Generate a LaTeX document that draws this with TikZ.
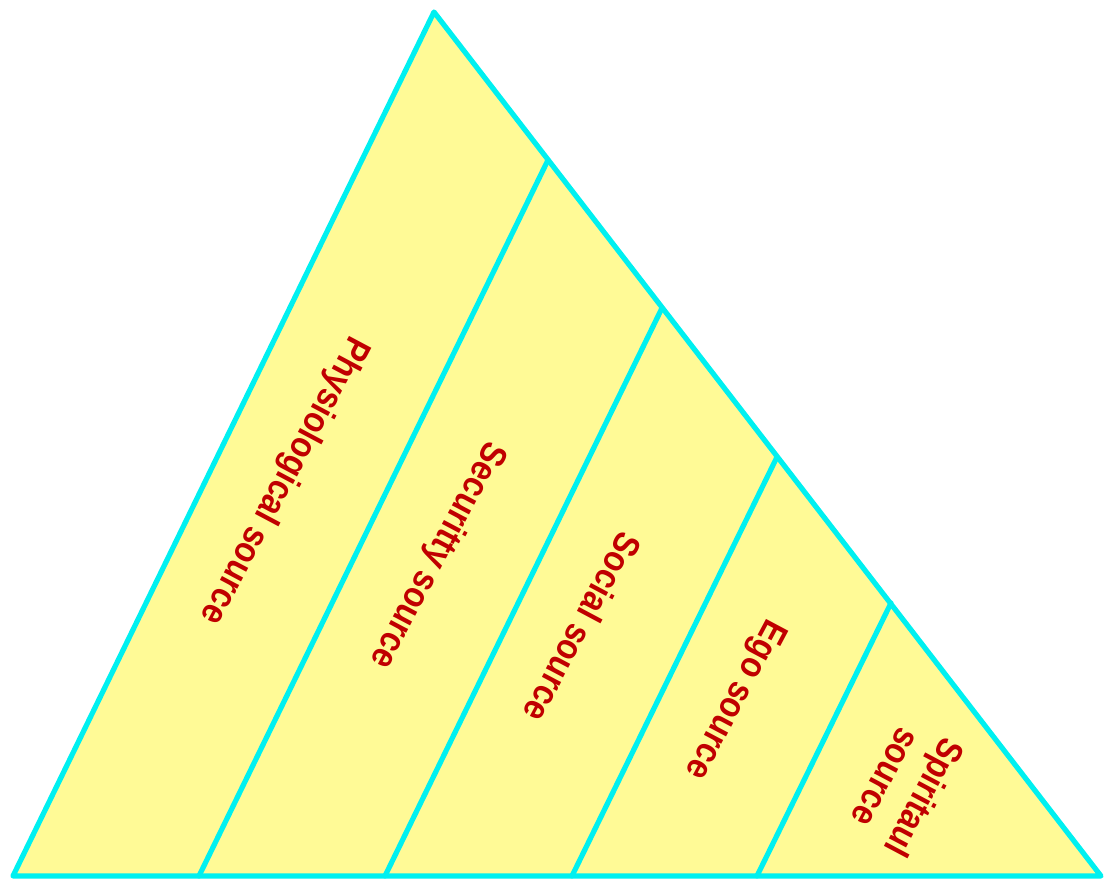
\documentclass[tikz,border=0pt]{standalone}
\usepackage{fontspec}
\setmainfont{Liberation Sans}
\definecolor{edgecyan}{RGB}{0,240,240}
\definecolor{paleyellow}{RGB}{255,250,150}
\definecolor{labelred}{RGB}{192,0,0}
\newcommand{\talltext}[1]{\scalebox{1}[1.15]{#1}}
\begin{document}
\begin{tikzpicture}[x=0.5pt,y=-0.5pt,
  edge/.style={draw=edgecyan,line width=2.6pt,line join=round,line cap=round},
  band/.style={font=\fontsize{16}{22}\selectfont\bfseries,text=labelred,rotate=-118,align=center,inner sep=0pt}]
\useasboundingbox (0,0) rectangle (1105,879);
\coordinate (A) at (434,12);
\coordinate (BL) at (13,876);
\coordinate (BR) at (1101,876);
\coordinate (b1) at (199,876);
\coordinate (b2) at (385,876);
\coordinate (b3) at (572,876);
\coordinate (b4) at (757,876);
\coordinate (r1) at (548,160);
\coordinate (r2) at (662,308);
\coordinate (r3) at (777,457);
\coordinate (r4) at (891,603);
\fill[paleyellow] (A) -- (BR) -- (BL) -- cycle;
\draw[edge] (b1) -- (r1);
\draw[edge] (b2) -- (r2);
\draw[edge] (b3) -- (r3);
\draw[edge] (b4) -- (r4);
\draw[edge] (A) -- (BR) -- (BL) -- cycle;
\node[band] (phys) at (284,480) {\talltext{Physiological source}};
\node[band] (secu) at (437,555) {\talltext{Securitty source}};
\node[band] (soci) at (583,628) {\talltext{Social source}};
\node[band] (egos) at (734,699) {\talltext{Ego source}};
\node[band] (spir) at (906,788) {\talltext{Spiritaul}\\\talltext{source}};
\end{tikzpicture}
\end{document}
